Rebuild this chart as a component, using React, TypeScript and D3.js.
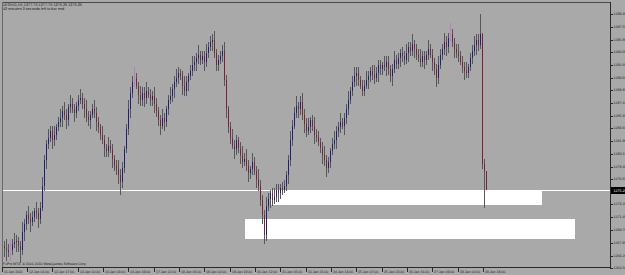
import React from "react";
import * as d3 from "d3";

const symbolHeader = "#ESH11,H1  1277.75 1277.75 1275.25 1275.25";
const timerHeader = "42 minutes 0 seconds left to bar end";
const copyright = "FxPro MT4, © 2001-2010 MetaQuotes Software Corp.";

const firstOpen = 1267.5;

const closes = [
  1267.25, 1267.0, 1266.75, 1267.0, 1267.75, 1268.0, 1268.25, 1267.5, 1267.0, 1269.5,
  1270.5, 1271.75, 1271.25, 1270.75, 1271.5, 1272.25, 1272.0, 1271.25, 1272.75, 1275.75,
  1279.25, 1281.5, 1282.25, 1283.25, 1282.0, 1282.75, 1283.75, 1284.5, 1285.0, 1286.0,
  1285.5, 1284.75, 1286.5, 1287.0, 1286.25, 1285.75, 1286.75, 1287.5, 1287.75, 1287.0,
  1286.25, 1285.25, 1284.75, 1285.5, 1286.25, 1285.75, 1284.5, 1283.75, 1282.75, 1282.0,
  1281.0, 1280.5, 1281.25, 1280.75, 1279.5, 1278.5, 1278.0, 1277.25, 1276.25, 1278.25,
  1280.75, 1283.5, 1286.25, 1288.5, 1290.0, 1290.5, 1289.5, 1288.25, 1287.5, 1288.5,
  1287.75, 1288.75, 1288.25, 1287.5, 1288.0, 1287.0, 1286.0, 1284.75, 1284.0, 1285.0,
  1284.5, 1286.25, 1287.5, 1288.0, 1289.0, 1290.0, 1290.5, 1291.25, 1290.75, 1289.5,
  1288.75, 1290.0, 1290.75, 1291.5, 1292.25, 1292.75, 1293.25, 1293.75, 1293.0, 1293.5,
  1292.75, 1294.0, 1294.75, 1295.5, 1295.75, 1294.0, 1292.25, 1293.0, 1293.5, 1294.25,
  1290.25, 1286.25, 1283.75, 1282.25, 1281.25, 1280.75, 1282.0, 1281.0, 1280.0, 1279.0,
  1279.5, 1278.5, 1277.5, 1278.0, 1279.0, 1277.75, 1276.75, 1275.75, 1273.75, 1271.75,
  1269.0, 1273.0, 1274.0, 1274.75, 1273.75, 1274.25, 1275.25, 1274.75, 1275.5, 1275.25,
  1275.75, 1277.25, 1279.25, 1282.0, 1284.0, 1285.75, 1286.75, 1286.25, 1287.25, 1285.5,
  1284.25, 1283.25, 1283.75, 1284.75, 1284.0, 1282.75, 1282.5, 1281.75, 1281.0, 1280.0,
  1279.25, 1278.25, 1279.0, 1280.5, 1281.5, 1282.0, 1283.25, 1283.75, 1284.5, 1284.0,
  1285.0, 1286.25, 1287.5, 1288.75, 1290.0, 1290.75, 1291.25, 1290.25, 1289.5, 1288.75,
  1289.5, 1290.25, 1290.75, 1291.5, 1291.0, 1290.5, 1291.25, 1292.25, 1291.75, 1292.25,
  1292.0, 1292.75, 1291.75, 1290.75, 1291.75, 1293.0, 1292.5, 1293.25, 1294.0, 1293.5,
  1293.0, 1294.0, 1294.75, 1294.25, 1295.25, 1294.5, 1293.75, 1293.25, 1292.75, 1293.5,
  1293.0, 1293.75, 1294.5, 1293.75, 1292.75, 1291.75, 1290.5, 1292.25, 1293.75, 1294.5,
  1295.5, 1294.75, 1296.0, 1296.5, 1295.5, 1294.5, 1294.0, 1293.5, 1292.75, 1292.0,
  1291.5, 1291.25, 1292.0, 1293.25, 1294.25, 1295.0, 1295.75, 1295.0, 1296.5, 1278.75,
  1277.75, 1275.25,
];

const upperWicks = [
  0.75, 1.25, 0.75, 1.5, 0.75, 1.25, 0.75, 0.5, 0.75, 1.25,
  0.75, 0.5, 1.25, 0.75, 0.75, 0.5, 1.25, 0.75, 0.75, 1.25,
  0.75, 0.5, 1.25, 0.75, 0.75, 1.25, 0.5, 0.75, 1.25, 0.75,
  1.25, 0.75, 0.5, 1.25, 0.75, 0.75, 0.5, 0.75, 1.25, 0.75,
  0.75, 1.25, 0.75, 0.5, 0.75, 1.25, 0.75, 0.75, 0.5, 1.25,
  0.75, 0.5, 1.25, 0.75, 0.75, 0.5, 0.75, 1.25, 0.75, 0.75,
  0.5, 0.75, 1.25, 0.75, 0.75, 1.5, 0.75, 0.5, 1.25, 0.75,
  0.75, 1.25, 0.5, 0.75, 0.75, 1.25, 0.75, 0.5, 0.75, 1.25,
  0.75, 0.5, 0.75, 1.25, 0.75, 0.75, 1.25, 0.75, 0.5, 0.75,
  1.25, 0.75, 0.5, 0.75, 1.25, 0.75, 0.75, 1.25, 0.5, 0.75,
  0.75, 1.25, 0.75, 0.75, 0.75, 1.25, 0.5, 0.75, 0.75, 0.75,
  1.25, 0.75, 0.5, 0.75, 1.25, 0.75, 0.75, 0.5, 0.75, 1.25,
  0.75, 1.25, 0.75, 0.5, 1.25, 0.75, 0.75, 1.25, 0.75, 0.75,
  0.75, 1.25, 0.75, 0.5, 0.75, 1.25, 0.75, 0.75, 0.5, 0.75,
  0.75, 0.5, 0.75, 1.25, 0.75, 0.75, 1.25, 0.5, 0.75, 1.25,
  0.75, 0.75, 1.25, 0.5, 0.75, 1.25, 0.75, 0.75, 0.5, 0.75,
  1.25, 0.75, 0.75, 0.5, 0.75, 1.25, 0.75, 0.75, 1.25, 0.5,
  0.75, 0.75, 1.25, 0.5, 0.75, 1.25, 0.75, 0.75, 0.5, 0.75,
  0.75, 1.25, 0.75, 0.5, 0.75, 1.25, 0.75, 0.75, 0.75, 0.5,
  1.25, 0.75, 0.75, 0.5, 0.75, 1.25, 0.75, 0.75, 0.5, 0.75,
  0.75, 1.25, 0.75, 0.75, 1.25, 0.5, 0.75, 0.75, 1.25, 0.75,
  0.75, 0.5, 1.25, 0.75, 0.75, 0.5, 0.75, 1.25, 0.75, 0.75,
  1.25, 0.75, 0.75, 1.5, 0.75, 0.5, 0.75, 1.25, 0.75, 0.75,
  0.75, 1.25, 0.5, 0.75, 0.75, 1.25, 0.75, 0.75, 2.75, 0.25,
  0.75, 0.0,
];

const lowerWicks = [
  1.25, 1.5, 0.75, 1.25, 0.75, 0.5, 1.25, 0.75, 1.75, 0.75,
  1.25, 0.75, 0.75, 1.25, 0.5, 0.75, 0.75, 1.25, 0.75, 0.5,
  0.75, 1.25, 0.75, 0.5, 1.25, 0.75, 0.75, 0.5, 0.75, 1.25,
  0.75, 1.25, 0.75, 0.75, 0.5, 1.25, 0.75, 0.75, 0.5, 0.75,
  1.25, 0.75, 0.75, 1.25, 0.5, 0.75, 1.25, 0.75, 0.75, 0.5,
  1.25, 0.75, 0.75, 0.5, 1.25, 0.75, 0.75, 1.25, 1.75, 0.75,
  0.75, 0.5, 0.75, 1.25, 0.75, 0.75, 0.5, 1.25, 0.75, 0.75,
  1.25, 0.75, 0.5, 0.75, 0.75, 1.25, 0.75, 0.75, 1.25, 0.5,
  1.25, 0.75, 0.75, 0.5, 0.75, 1.25, 0.75, 0.75, 0.5, 1.25,
  0.75, 0.75, 1.25, 0.5, 0.75, 0.75, 1.25, 0.75, 0.75, 0.5,
  1.25, 0.75, 0.75, 0.5, 1.25, 0.75, 0.75, 0.75, 0.5, 0.75,
  0.75, 1.25, 0.75, 0.75, 0.5, 1.25, 0.75, 0.75, 1.25, 0.75,
  0.5, 0.75, 1.25, 0.75, 0.75, 0.5, 1.25, 0.75, 0.75, 1.25,
  1.25, 0.75, 0.75, 1.25, 0.75, 0.5, 0.75, 1.25, 0.75, 0.75,
  0.5, 0.75, 1.25, 0.75, 0.75, 0.5, 0.75, 1.25, 0.75, 0.75,
  1.25, 0.75, 0.5, 0.75, 0.75, 1.25, 0.75, 0.5, 0.75, 1.25,
  0.75, 1.25, 0.75, 0.75, 0.5, 0.75, 1.25, 0.75, 0.75, 0.5,
  1.25, 0.75, 0.75, 0.5, 0.75, 0.75, 1.25, 0.75, 0.5, 0.75,
  0.75, 0.5, 1.25, 0.75, 0.75, 0.75, 0.5, 1.25, 0.75, 0.75,
  0.5, 1.25, 0.75, 0.75, 1.25, 0.5, 0.75, 0.75, 1.25, 0.75,
  0.75, 0.5, 1.25, 0.75, 0.75, 1.25, 0.75, 0.5, 0.75, 0.75,
  1.25, 0.75, 0.75, 0.5, 1.25, 0.75, 1.25, 0.75, 0.5, 0.75,
  0.75, 1.25, 0.75, 0.5, 0.75, 1.25, 0.75, 0.75, 0.5, 0.75,
  1.25, 0.75, 0.75, 0.5, 0.75, 0.75, 1.25, 0.75, 0.5, 0.75,
  5.0, 0.0,
];

const priceTicks = [
  "1299.30", "1297.55", "1295.80", "1294.05", "1292.35", "1290.60", "1288.85",
  "1287.10", "1285.35", "1283.65", "1281.90", "1280.15", "1278.40", "1276.65",
  "1274.95", "1273.20", "1271.45", "1269.70", "1267.95", "1266.20", "1264.50",
];

const timeLabels = [
  "11 Jan 2011", "12 Jan 01:00", "12 Jan 17:00", "13 Jan 10:00", "14 Jan 03:00",
  "14 Jan 19:00", "17 Jan 12:00", "18 Jan 05:00", "19 Jan 02:00", "19 Jan 19:00",
  "20 Jan 12:00", "21 Jan 05:00", "21 Jan 21:00", "24 Jan 14:00", "25 Jan 07:00",
  "25 Jan 23:00", "26 Jan 16:00", "27 Jan 09:00", "28 Jan 02:00", "28 Jan 18:00",
];

const currentPrice = 1275.25;

// zones: bar-index anchors and price anchors
const zoneFrom = [133, 120.5];
const zoneTo = [269, 285.5];
const zoneTop = [1275.25, 1271.25];
const zoneBottom = [1273.25, 1268.5];

const W = 625;
const H = 275;
const LEFT = 2;
const RIGHT = 610;
const TOP = 2;
const BOTTOM = 267;
const FONT = "'Liberation Sans', Arial, sans-serif";

export default function App() {
  const y = d3.scaleLinear().domain([1264.5, 1299.3]).range([268, 14]);
  const x = d3.scaleLinear().domain([0, closes.length - 1]).range([4, 486]);
  const tx = d3.scalePoint<string>().domain(timeLabels).range([1.5, 483]);

  const bars = closes.map((c, i) => {
    const o = i === 0 ? firstOpen : closes[i - 1];
    const hi = Math.max(o, c) + upperWicks[i];
    const lo = Math.min(o, c) - lowerWicks[i];
    return { o, c, hi, lo, i };
  });

  return (
    <svg
      width={W}
      height={H}
      style={{ position: "absolute", left: 0, top: 0, display: "block" }}
      shapeRendering="crispEdges"
    >
      <rect x={0} y={0} width={W} height={H} fill="#a9a9a9" />

      {/* zones */}
      {zoneFrom.map((f, k) => (
        <rect
          key={"z" + k}
          x={Math.round(x(f))}
          y={Math.round(y(zoneTop[k]))}
          width={Math.round(x(zoneTo[k]) - x(f))}
          height={Math.round(y(zoneBottom[k]) - y(zoneTop[k]))}
          fill="#ffffff"
        />
      ))}

      {/* current price line */}
      <rect x={LEFT} y={Math.round(y(currentPrice))} width={RIGHT - LEFT} height={1} fill="#ffffff" />

      {/* candles */}
      {bars.map((b) => {
        const bull = b.c >= b.o;
        const uw = upperWicks[b.i];
        const pink = bull && uw >= 1.5 && uw < 2.5;
        const bodyColor = pink ? "#c27ac9" : bull ? "#1f1f7a" : "#7b2231";
        const wickColor = pink ? "#b77dbf" : "#56565e";
        const xx = Math.round(x(b.i));
        const yTop = y(Math.max(b.o, b.c));
        const yBot = y(Math.min(b.o, b.c));
        return (
          <g key={b.i}>
            <rect x={xx} y={y(b.hi)} width={1} height={Math.max(1, y(b.lo) - y(b.hi))} fill={wickColor} />
            <rect x={xx} y={yTop} width={1} height={Math.max(1, yBot - yTop)} fill={bodyColor} />
          </g>
        );
      })}

      {/* frame */}
      <line x1={LEFT + 0.5} y1={TOP + 0.5} x2={RIGHT + 0.5} y2={TOP + 0.5} stroke="#4a4a4a" />
      <line x1={LEFT + 0.5} y1={TOP} x2={LEFT + 0.5} y2={BOTTOM} stroke="#6a6a6a" />
      <line x1={RIGHT + 0.5} y1={TOP} x2={RIGHT + 0.5} y2={BOTTOM + 1} stroke="#2a2a2a" />
      <line x1={LEFT} y1={BOTTOM + 0.5} x2={RIGHT + 1} y2={BOTTOM + 0.5} stroke="#2a2a2a" />

      {/* price axis */}
      {priceTicks.map((t) => {
        const yy = Math.round(y(parseFloat(t)));
        return (
          <g key={t}>
            <line x1={RIGHT} x2={RIGHT + 3} y1={yy + 0.5} y2={yy + 0.5} stroke="#2a2a2a" />
            <text
              x={RIGHT + 3.5}
              y={yy + 1.3}
              fontSize={3.6}
              fontFamily={FONT}
              fill="#1a1a1a"
              textRendering="geometricPrecision"
            >
              {t}
            </text>
          </g>
        );
      })}

      {/* current price label */}
      <rect x={RIGHT + 1} y={Math.round(y(currentPrice)) - 3} width={W - RIGHT - 1} height={7} fill="#000000" />
      <text
        x={RIGHT + 3.5}
        y={Math.round(y(currentPrice)) + 1.8}
        fontSize={3.6}
        fontFamily={FONT}
        fill="#ffffff"
        textRendering="geometricPrecision"
      >
        {currentPrice.toFixed(2)}
      </text>

      {/* time axis */}
      {timeLabels.map((t) => {
        const xx = Math.round(tx(t) as number);
        return (
          <g key={t}>
            <line x1={xx + 0.5} x2={xx + 0.5} y1={BOTTOM} y2={BOTTOM + 5} stroke="#2a2a2a" />
            <text
              x={xx + 2}
              y={272.6}
              fontSize={3.5}
              fontFamily={FONT}
              fill="#1a1a1a"
              textRendering="geometricPrecision"
            >
              {t}
            </text>
          </g>
        );
      })}

      {/* header and footer texts */}
      <text x={3} y={5.8} fontSize={3.8} fontFamily={FONT} fill="#1a1a1a" textRendering="geometricPrecision">
        {symbolHeader}
      </text>
      <text x={3} y={9.6} fontSize={3.8} fontFamily={FONT} fill="#1a1a1a" textRendering="geometricPrecision">
        {timerHeader}
      </text>
      <text x={3} y={265.3} fontSize={3.5} fontFamily={FONT} fill="#1a1a1a" textRendering="geometricPrecision">
        {copyright}
      </text>
    </svg>
  );
}
